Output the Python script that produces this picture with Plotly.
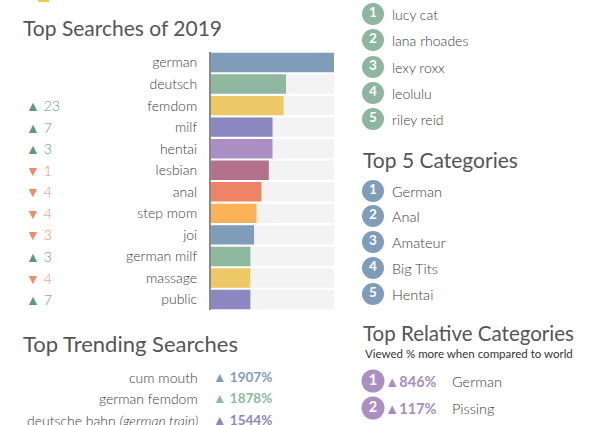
import plotly.graph_objects as go

W, H = 602, 425

# ---------------- data ----------------
search_terms = ["german", "deutsch", "femdom", "milf", "hentai", "lesbian", "anal",
                "step mom", "joi", "german milf", "massage", "public"]
search_values = [100, 61, 59, 50, 50, 47, 41, 37, 35, 32, 32, 32]
rank_change = [None, None, 23, 7, 3, -1, -4, -4, -3, 3, -4, 7]
bar_colors = ["#7f9db9", "#8fb8a0", "#ecc966", "#8b87c0", "#ab8fc4", "#b2728c",
              "#ef8366", "#fbb156", "#7f9db9", "#8fb8a0", "#ecc966", "#8b87c0"]

trending_terms = ["cum mouth", "german femdom", "deutsche bahn <i>(german train)</i>"]
trending_pct = [1907, 1878, 1544]
trending_colors = ["#7f9db9", "#8fb8a0", "#8b87c0"]

pornstars = ["lucy cat", "lana rhoades", "lexy roxx", "leolulu", "riley reid"]
top_categories = ["German", "Anal", "Amateur", "Big Tits", "Hentai"]
relative_categories = ["German", "Pissing"]
relative_pct = [846, 117]

FONT = "Lato"
GRAY = "#555555"
TXT = "#3c3c3c"
UP = "#5d9a79"
DOWN = "#f08c68"
LIGHT = 300

fig = go.Figure()

# ---------------- bar chart ----------------
fig.add_trace(go.Bar(
    y=search_terms, x=[100] * len(search_terms), orientation="h",
    marker=dict(color="#f3f3f3", line=dict(width=0)), width=0.9,
    hoverinfo="skip", showlegend=False, xaxis="x", yaxis="y"))
fig.add_trace(go.Bar(
    y=search_terms, x=search_values, orientation="h",
    marker=dict(color=bar_colors, line=dict(width=0)), width=0.9,
    showlegend=False, xaxis="x", yaxis="y"))

top_px = 62.5 - 21.55 / 2
bot_px = 62.5 + 21.55 * 11.5
fig.update_layout(
    barmode="overlay",
    xaxis=dict(domain=[211 / W, 334 / W], range=[0, 100], visible=False, fixedrange=True),
    yaxis=dict(domain=[1 - bot_px / H, 1 - top_px / H], categoryorder="array",
               categoryarray=search_terms, range=[11.5, -0.5], showgrid=False,
               zeroline=False, showline=True, linecolor="#8a8a8a", linewidth=2,
               ticks="", ticklabelstandoff=9, fixedrange=True,
               tickfont=dict(family=FONT, size=14, color=TXT, weight=LIGHT)),
)

annotations = []
for term, ch in zip(search_terms, rank_change):
    if ch is None:
        continue
    sym = "▲" if ch > 0 else "▼"
    col = UP if ch > 0 else DOWN
    annotations.append(dict(
        x=24, y=term, xref="x2", yref="y", xanchor="left", yanchor="middle",
        text=f"{sym} {abs(ch)}", showarrow=False,
        font=dict(family=FONT, size=14, color=col, weight=LIGHT)))

# ---------------- overlay pixel axes ----------------
fig.update_layout(
    xaxis2=dict(domain=[0, 1], range=[0, W], visible=False, anchor="y2", fixedrange=True),
    yaxis2=dict(domain=[0, 1], range=[H, 0], visible=False, anchor="x2", fixedrange=True),
)

def title(x, y, text, size=21):
    annotations.append(dict(x=x, y=y, xref="x2", yref="y2", xanchor="left",
                            yanchor="middle", text=text, showarrow=False,
                            font=dict(family=FONT, size=size, color=GRAY)))

title(21, 27, "Top Searches of 2019")
title(21, 343, "Top Trending Searches", 22)
title(361, 159, "Top 5 Categories")
title(361, 333, "Top Relative Categories", 20.5)
annotations.append(dict(x=363, y=353, xref="x2", yref="y2", xanchor="left",
                        yanchor="middle", text="Viewed % more when compared to world",
                        showarrow=False, font=dict(family=FONT, size=11.5, color="#333333")))

# trending searches
trend_y = [377, 398, 420]
for term, pct, col, y in zip(trending_terms, trending_pct, trending_colors, trend_y):
    annotations.append(dict(x=200, y=y, xref="x2", yref="y2", xanchor="right",
                            yanchor="middle", text=term, showarrow=False,
                            font=dict(family=FONT, size=14, color=TXT, weight=LIGHT)))
    annotations.append(dict(x=211, y=y, xref="x2", yref="y2", xanchor="left",
                            yanchor="middle", text=f"▲ <b>{pct}%</b>", showarrow=False,
                            font=dict(family=FONT, size=13.5, color=col)))

# numbered lists
def ranked(names, ys, color, size=13, text_x=390):
    fig.add_trace(go.Scatter(
        x=[373] * len(ys), y=ys, xaxis="x2", yaxis="y2", mode="markers+text",
        marker=dict(size=22, color=color, line=dict(width=0)),
        text=[f"<b>{i + 1}</b>" for i in range(len(ys))], textposition="middle center",
        textfont=dict(family=FONT, size=13.5, color="white"),
        hoverinfo="skip", showlegend=False, cliponaxis=False))
    for n, y in zip(names, ys):
        annotations.append(dict(x=text_x, y=y, xref="x2", yref="y2", xanchor="left",
                                yanchor="middle", text=n, showarrow=False,
                                font=dict(family=FONT, size=size, color=TXT, weight=LIGHT)))

ranked(pornstars, [14, 40, 67, 93, 119], "#8db5a0", 14)
ranked(top_categories, [191, 216, 242, 268, 294], "#7f9db9", 14.5)

rel_y = [381, 408]
fig.add_trace(go.Scatter(
    x=[373] * 3, y=rel_y + [435], xaxis="x2", yaxis="y2", mode="markers+text",
    marker=dict(size=23, color="#ab8fc4", line=dict(width=0)),
    text=["<b>1</b>", "<b>2</b>", "<b>3</b>"], textposition="middle center",
    textfont=dict(family=FONT, size=14.5, color="white"),
    hoverinfo="skip", showlegend=False, cliponaxis=False))
for name, pct, y in zip(relative_categories, relative_pct, rel_y):
    annotations.append(dict(x=439, y=y, xref="x2", yref="y2", xanchor="right",
                            yanchor="middle", text=f"<b>▲{pct}%</b>", showarrow=False,
                            font=dict(family=FONT, size=14.5, color="#a68bc4")))
    annotations.append(dict(x=450, y=y, xref="x2", yref="y2", xanchor="left",
                            yanchor="middle", text=name, showarrow=False,
                            font=dict(family=FONT, size=14.5, color=TXT, weight=LIGHT)))

fig.update_layout(
    width=W, height=H, margin=dict(l=0, r=0, t=0, b=0),
    paper_bgcolor="white", plot_bgcolor="rgba(0,0,0,0)",
    annotations=annotations,
    shapes=[dict(type="rect", xref="paper", yref="paper", x0=38 / W, x1=49 / W,
                 y0=1 - 2 / H, y1=1, fillcolor="#f2c94c", line=dict(width=0))],
    font=dict(family=FONT),
)

fig.write_html("out.html", config={"displayModeBar": False},
               post_script="document.body.style.margin='0';document.body.style.overflow='hidden';")
